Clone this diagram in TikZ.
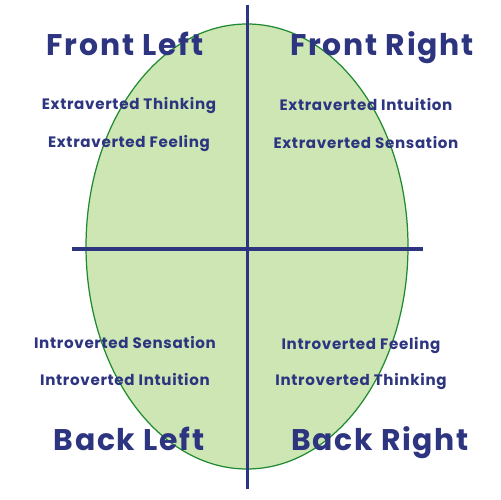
\documentclass[tikz,border=0pt]{standalone}
\usepackage{fontspec}
\setmainfont{Poppins}[BoldFont={* Bold}]
\definecolor{navy}{HTML}{2E3580}
\definecolor{leaf}{HTML}{CDE6B4}
\definecolor{rim}{HTML}{1F8A30}
\tikzset{
  big/.style={text=navy,font=\bfseries\fontsize{17}{20}\selectfont\addfontfeatures{LetterSpace=6},inner sep=0pt,anchor=base},
  small/.style={text=navy,font=\bfseries\fontsize{8.6}{10}\selectfont\addfontfeatures{LetterSpace=4.5},inner sep=0pt,anchor=base},
  axis/.style={draw=navy,line width=2pt}
}
\begin{document}
\begin{tikzpicture}[x=0.02cm,y=-0.02cm]
\useasboundingbox (0,0) rectangle (500,500);
\fill[white] (0,0) rectangle (500,500);
\draw[fill=leaf,draw=rim,line width=0.7pt] (247,246.5) ellipse [x radius=161,y radius=222.5];
\coordinate (vt) at (247.5,5);
\coordinate (vb) at (247.5,489);
\coordinate (hl) at (72,249);
\coordinate (hr) at (423,249);
\draw[axis] (vt) -- (vb);
\draw[axis] (hl) -- (hr);
\node[big] (fl) at (125,56) {Front Left};
\node[big] (fr) at (382,56) {Front Right};
\node[big] (bl) at (129,450) {Back Left};
\node[big] (br) at (380,450) {Back Right};
\node[small] (et) at (129,110) {Extraverted Thinking};
\node[small] (ef) at (129,147) {Extraverted Feeling};
\node[small] (ei) at (366,111) {Extraverted Intuition};
\node[small] (es) at (366,148) {Extraverted Sensation};
\node[small] (is) at (125,348) {Introverted Sensation};
\node[small] (ii) at (125,385) {Introverted Intuition};
\node[small] (if) at (361,349) {Introverted Feeling};
\node[small] (it) at (361,385) {Introverted Thinking};
\end{tikzpicture}
\end{document}
